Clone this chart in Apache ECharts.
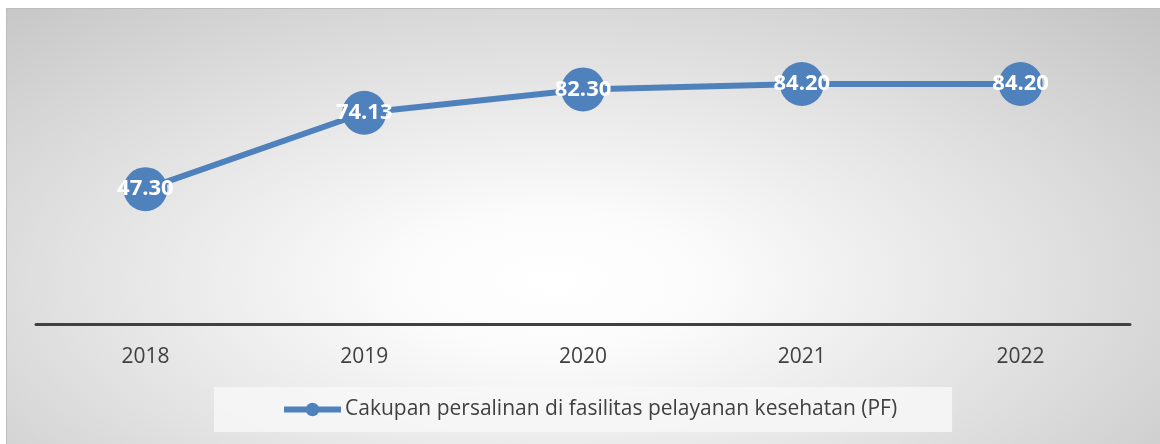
<!DOCTYPE html>
<html>
<head>
<meta charset="utf-8">
<script src="https://cdn.jsdelivr.net/npm/echarts@6/dist/echarts.min.js"></script>
<style>
html,body{margin:0;padding:0;background:#fff;width:1160px;height:444px;overflow:hidden;}
#bg{position:absolute;left:6px;top:8px;width:1160px;height:440px;border-left:1px solid #bdbdbd;border-top:1px solid #bdbdbd;
background:radial-gradient(ellipse 75% 90% at 47% 62%, #ffffff 0%, #fbfbfb 18%, #e2e2e2 55%, #c2c2c2 100%);}
#chart{position:absolute;left:0;top:0;width:1160px;height:444px;}
</style>
</head>
<body>
<div id="bg"></div>
<div id="chart"></div>
<script>
const categories = ['2018', '2019', '2020', '2021', '2022'];
const values = [47.30, 74.13, 82.30, 84.20, 84.20];
const seriesName = 'Cakupan persalinan di fasilitas pelayanan kesehatan (PF)';

const chart = echarts.init(document.getElementById('chart'), null, {renderer: 'canvas'});
chart.setOption({
  backgroundColor: 'transparent',
  animation: false,
  grid: {left: 36, right: 30, top: 39, bottom: 120, containLabel: false},
  xAxis: {
    type: 'category',
    data: categories,
    boundaryGap: true,
    axisLine: {show: true, lineStyle: {color: '#404040', width: 3}},
    axisTick: {show: false},
    axisLabel: {color: '#404040', fontSize: 21, fontFamily: 'Open Sans', margin: 23}
  },
  yAxis: {
    type: 'value', min: 0, max: 100, show: false,
    splitLine: {show: false}
  },
  legend: {
    data: [seriesName],
    left: 214,
    top: 387,
    backgroundColor: 'rgba(247,247,247,0.85)',
    padding: [12, 55, 12, 67],
    itemWidth: 57,
    itemHeight: 17,
    itemGap: 4,
    lineStyle: {width: 6},
    textStyle: {color: '#404040', fontSize: 21, fontFamily: 'Open Sans', padding: [0, 0, 0, -1]}
  },
  series: [{
    name: seriesName,
    type: 'line',
    data: values,
    symbol: 'circle',
    symbolSize: 44,
    color: '#4f81bd',
    lineStyle: {color: '#4f81bd', width: 6},
    itemStyle: {color: '#4f81bd'},
    label: {
      show: true,
      position: 'inside',
      formatter: p => p.value.toFixed(2),
      color: '#ffffff',
      fontWeight: 'bold',
      fontSize: 22,
      fontFamily: 'Open Sans'
    }
  }]
});
</script>
</body>
</html>
